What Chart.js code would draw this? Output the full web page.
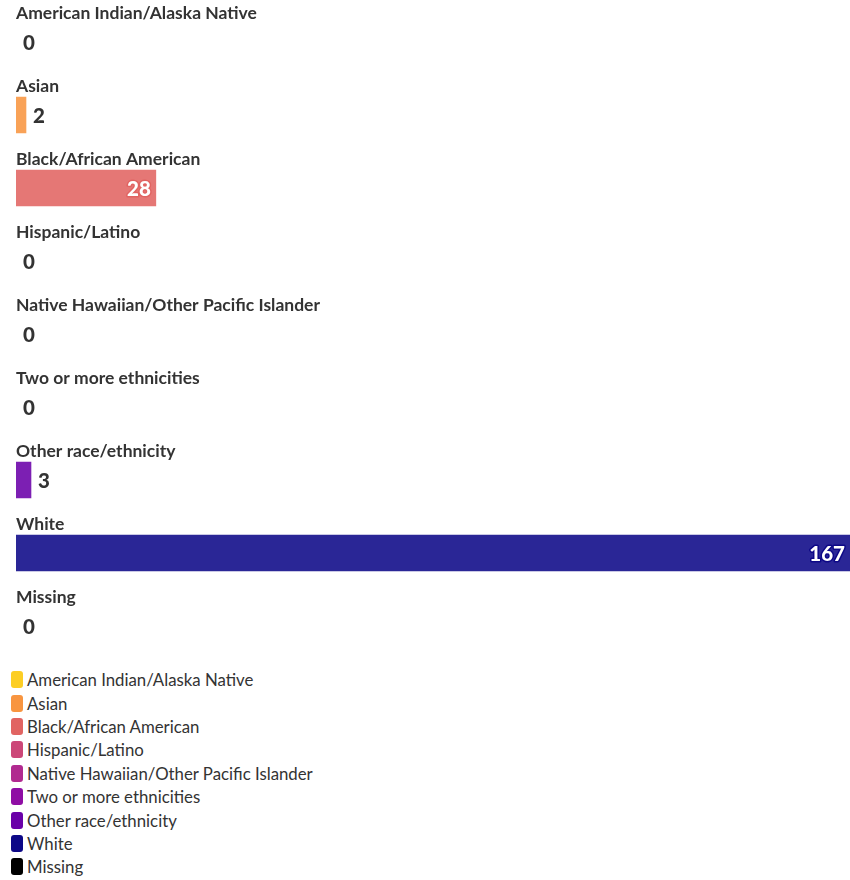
<!DOCTYPE html>
<html>
<head>
<meta charset="utf-8">
<script src="https://cdn.jsdelivr.net/npm/chart.js@4"></script>
<style>
  body { margin: 0; background: #fff; font-family: Lato, "Open Sans", sans-serif; }
  #wrap { position: relative; width: 850px; height: 668px; }
  #legend { margin: 0; padding: 0 0 0 11px; list-style: none; }
  #legend li { display: flex; align-items: center; height: 23.4px; font-size: 16.8px; color: #333; }
  #legend span.sw { display: inline-block; width: 12px; height: 17px; border-radius: 3px; margin-right: 4px; }
</style>
</head>
<body>
<div id="wrap"><canvas id="chart"></canvas></div>
<ul id="legend"></ul>
<script>
(() => {

    // categorías y valores
    const categories = [
        'American Indian/Alaska Native',
        'Asian',
        'Black/African American',
        'Hispanic/Latino',
        'Native Hawaiian/Other Pacific Islander',
        'Two or more ethnicities',
        'Other race/ethnicity',
        'White',
        'Missing'
    ];
    const values = [0, 2, 28, 0, 0, 0, 3, 167, 0];
    const colors = ['#fcce25', '#f89540', '#e16462', '#cc4778', '#b12a90', '#8f0da4', '#6a00a8', '#0d0887', '#000000'];

    const withAlpha = (hex, a) => {
        const n = parseInt(hex.slice(1), 16);
        return `rgba(${n >> 16}, ${(n >> 8) & 255}, ${n & 255}, ${a})`;
    };

    // etiquetas de categoría encima y valores al lado de cada barra
    const labelsPlugin = {
        id: 'barLabels',
        afterDatasetsDraw(chart) {
            const ctx = chart.ctx;
            const meta = chart.getDatasetMeta(0);
            const left = chart.chartArea.left;
            ctx.save();
            meta.data.forEach((bar, i) => {
                ctx.font = 'bold 17.5px Lato, "Open Sans", sans-serif';
                ctx.fillStyle = '#333';
                ctx.textAlign = 'left';
                ctx.textBaseline = 'middle';
                ctx.fillText(categories[i], left, bar.y - 29);

                ctx.font = '900 20.5px Lato, "Open Sans", sans-serif';
                const txt = String(values[i]);
                const w = ctx.measureText(txt).width;
                const barW = bar.x - left;
                if (barW > w + 14) {
                    ctx.textAlign = 'right';
                    ctx.lineWidth = 3;
                    ctx.lineJoin = 'round';
                    ctx.strokeStyle = colors[i];
                    ctx.strokeText(txt, bar.x - 5, bar.y + 1);
                    ctx.fillStyle = '#fff';
                    ctx.fillText(txt, bar.x - 5, bar.y + 1);
                } else {
                    ctx.textAlign = 'left';
                    ctx.fillStyle = '#333';
                    ctx.fillText(txt, bar.x + 7, bar.y + 1);
                }
            });
            ctx.restore();
        }
    };

    const app = {
        htmlElements: {
            chart: document.getElementById('chart'),
            legend: document.getElementById('legend')
        },
        chartInstance: null,
        initialize() {
            app.methods.drawChart();
            app.methods.drawLegend();
        },
        methods: {
            drawChart() {
                const ctx = app.htmlElements.chart.getContext('2d');
                app.chartInstance = new Chart(ctx, {
                    type: 'bar',
                    data: {
                        labels: categories,
                        datasets: [{
                            data: values,
                            backgroundColor: (c) => values[c.dataIndex] === 0 ? 'rgba(0,0,0,0)' : withAlpha(colors[c.dataIndex], 0.88),
                            borderWidth: 0,
                            barThickness: 36
                        }]
                    },
                    options: {
                        indexAxis: 'y',
                        responsive: true,
                        maintainAspectRatio: false,
                        animation: false,
                        layout: { padding: { top: 5.5, bottom: 5.5, left: 16, right: 0 } },
                        scales: {
                            x: { display: false, min: 0, max: 167 },
                            y: { display: false }
                        },
                        plugins: {
                            legend: { display: false },
                            tooltip: { enabled: false }
                        }
                    },
                    plugins: [labelsPlugin]
                });
            },
            drawLegend() {
                categories.forEach((cat, i) => {
                    const li = document.createElement('li');
                    li.innerHTML = `<span class="sw" style="background:${colors[i]}"></span>${cat}`;
                    app.htmlElements.legend.appendChild(li);
                });
            }
        }
    };
    app.initialize();
})();
</script>
</body>
</html>
